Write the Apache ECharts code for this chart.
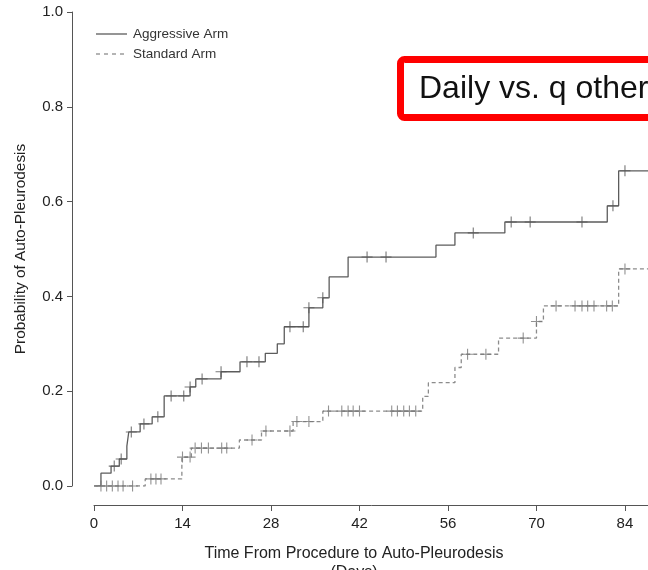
<!DOCTYPE html>
<html>
<head>
<meta charset="utf-8">
<script src="https://cdn.jsdelivr.net/npm/echarts@6/dist/echarts.min.js"></script>
<style>
  html, body { margin: 0; padding: 0; background: #fff; }
  #chart { width: 648px; height: 570px; }
</style>
</head>
<body>
<div id="chart"></div>
<script>
// Cumulative incidence of auto-pleurodesis, step curves per arm
const aggressiveTimes = [0, 1.1, 2.7, 4.0, 5.2, 5.5, 7.3, 9.2, 11.1, 15.2, 16.1, 20.1, 23.1, 27.1, 29.0, 30.1, 34.0, 36.2, 37.2, 40.2, 54.1, 57.1, 65.0, 81.2, 83.0, 92];
const aggressiveProb  = [0, 0.027, 0.042, 0.057, 0.084, 0.114, 0.131, 0.146, 0.19, 0.209, 0.226, 0.241, 0.262, 0.28, 0.30, 0.336, 0.376, 0.397, 0.441, 0.483, 0.508, 0.534, 0.557, 0.591, 0.665, 0.665];
const aggressiveCensored = [3.2, 4.3, 5.9, 7.9, 10.1, 12.2, 14.2, 15.2, 17.1, 20.1, 24.2, 26.1, 31.0, 33.1, 34.0, 36.2, 43.2, 46.2, 60.0, 66.0, 69.0, 77.2, 82.1, 84.0];

const standardTimes = [0, 8.1, 13.9, 15.4, 23.0, 26.5, 31.5, 36.2, 52.0, 52.9, 57.1, 58.1, 64.0, 70.0, 71.1, 83.0, 92];
const standardProb  = [0, 0.015, 0.061, 0.08, 0.097, 0.116, 0.136, 0.158, 0.189, 0.218, 0.25, 0.278, 0.312, 0.347, 0.38, 0.458, 0.458];
const standardCensored = [1.1, 2.0, 2.9, 3.8, 4.6, 6.1, 9.0, 9.8, 10.6, 14.0, 15.2, 16.0, 17.0, 18.1, 20.2, 21.0, 25.0, 27.2, 31.0, 32.1, 34.0, 37.1, 39.2, 40.2, 41.0, 42.0, 47.1, 48.0, 49.0, 49.9, 50.9, 59.1, 62.0, 67.9, 70.0, 73.1, 76.1, 77.2, 78.1, 79.1, 81.1, 82.0, 84.0];

const armNames = ['Aggressive Arm', 'Standard Arm'];
const xTicks = [0, 14, 28, 42, 56, 70, 84, 98];
const yTicks = [0, 0.2, 0.4, 0.6, 0.8, 1.0];

// value of a step curve at time t
function stepAt(times, probs, t) {
  let v = probs[0];
  for (let i = 0; i < times.length; i++) {
    if (times[i] <= t + 1e-9) v = probs[i];
  }
  return v;
}
const pairs = (ts, ps) => ts.map((t, i) => [t, ps[i]]);
const censorPts = (cs, ts, ps) => cs.map(t => [t, stepAt(ts, ps, t)]);

const plus = 'path://M0,-1L0,1M-1,0L1,0';
const chart = echarts.init(document.getElementById('chart'), null, { renderer: 'canvas' });

const textColor = '#222';
const axisColor = '#555';
const aggColor = '#5c5c5c';
const stdColor = '#8c8c8c';
const font = 'Liberation Sans, Arial, Helvetica, sans-serif';

chart.setOption({
  animation: false,
  backgroundColor: '#fff',
  textStyle: { fontFamily: font },
  grid: {
    left: 94, top: 12, height: 474,
    width: 6.321 * xTicks[xTicks.length - 1],
    outerBoundsMode: 'none',
    containLabel: false
  },
  xAxis: {
    type: 'value',
    min: xTicks[0], max: xTicks[xTicks.length - 1], interval: 14,
    offset: 19,
    axisLine: { onZero: false, lineStyle: { color: axisColor, width: 1 } },
    axisTick: { length: 6, lineStyle: { color: axisColor } },
    axisLabel: { fontSize: 15, color: textColor, margin: 11, fontFamily: font },
    splitLine: { show: false }
  },
  yAxis: {
    type: 'value',
    min: yTicks[0], max: yTicks[yTicks.length - 1], interval: 0.2,
    offset: 22,
    name: 'Probability of Auto-Pleurodesis',
    nameLocation: 'middle',
    nameGap: 44,
    nameTextStyle: { fontSize: 15.4, color: textColor, fontFamily: font },
    axisLine: { show: true, onZero: false, lineStyle: { color: axisColor, width: 1 } },
    axisTick: { show: true, length: 5, lineStyle: { color: axisColor } },
    axisLabel: { fontSize: 15, color: textColor, margin: 9, fontFamily: font,
                 formatter: v => v.toFixed(1) },
    splitLine: { show: false }
  },
  series: [
    {
      name: armNames[0], type: 'line', step: 'end',
      data: pairs(aggressiveTimes, aggressiveProb),
      symbol: 'none', showSymbol: false,
      lineStyle: { color: aggColor, width: 1.3, type: 'solid' },
      z: 3
    },
    {
      name: armNames[1], type: 'line', step: 'end',
      data: pairs(standardTimes, standardProb),
      symbol: 'none', showSymbol: false,
      lineStyle: { color: stdColor, width: 1.3, type: [4, 3] },
      z: 3
    },
    {
      name: 'aggressive-censored', type: 'scatter',
      data: censorPts(aggressiveCensored, aggressiveTimes, aggressiveProb),
      symbol: plus, symbolSize: 11,
      itemStyle: { color: 'rgba(0,0,0,0)', borderColor: '#555', borderWidth: 1.1 },
      z: 4
    },
    {
      name: 'standard-censored', type: 'scatter',
      data: censorPts(standardCensored, standardTimes, standardProb),
      symbol: plus, symbolSize: 11,
      itemStyle: { color: 'rgba(0,0,0,0)', borderColor: '#777', borderWidth: 1.1 },
      z: 4
    }
  ],
  graphic: [
    // key
    { type: 'line', shape: { x1: 96, y1: 34, x2: 127, y2: 34 },
      style: { stroke: aggColor, lineWidth: 1.3 } },
    { type: 'text', style: { x: 133, y: 34, text: armNames[0], fill: '#333',
      font: '13.5px ' + font, verticalAlign: 'middle' } },
    { type: 'line', shape: { x1: 96, y1: 54, x2: 127, y2: 54 },
      style: { stroke: stdColor, lineWidth: 1.3, lineDash: [4, 4] } },
    { type: 'text', style: { x: 133, y: 54, text: armNames[1], fill: '#333',
      font: '13.5px ' + font, verticalAlign: 'middle' } },
    // x-axis title
    {
      type: 'text',
      style: {
        text: 'Time From Procedure to Auto-Pleurodesis\n(Days)',
        x: 354, y: 544,
        fill: textColor, font: '16px ' + font, align: 'center', lineHeight: 19
      }
    },
    // annotation box
    {
      type: 'rect',
      shape: { x: 400.5, y: 59.5, width: 330, height: 58, r: 4 },
      style: { fill: '#fff', stroke: '#ff0000', lineWidth: 7 },
      z: 10
    },
    {
      type: 'text',
      style: { x: 419, y: 89, text: 'Daily vs. q other day', fill: '#111',
               font: '32px ' + font, verticalAlign: 'middle' },
      z: 11
    }
  ]
});
</script>
</body>
</html>
